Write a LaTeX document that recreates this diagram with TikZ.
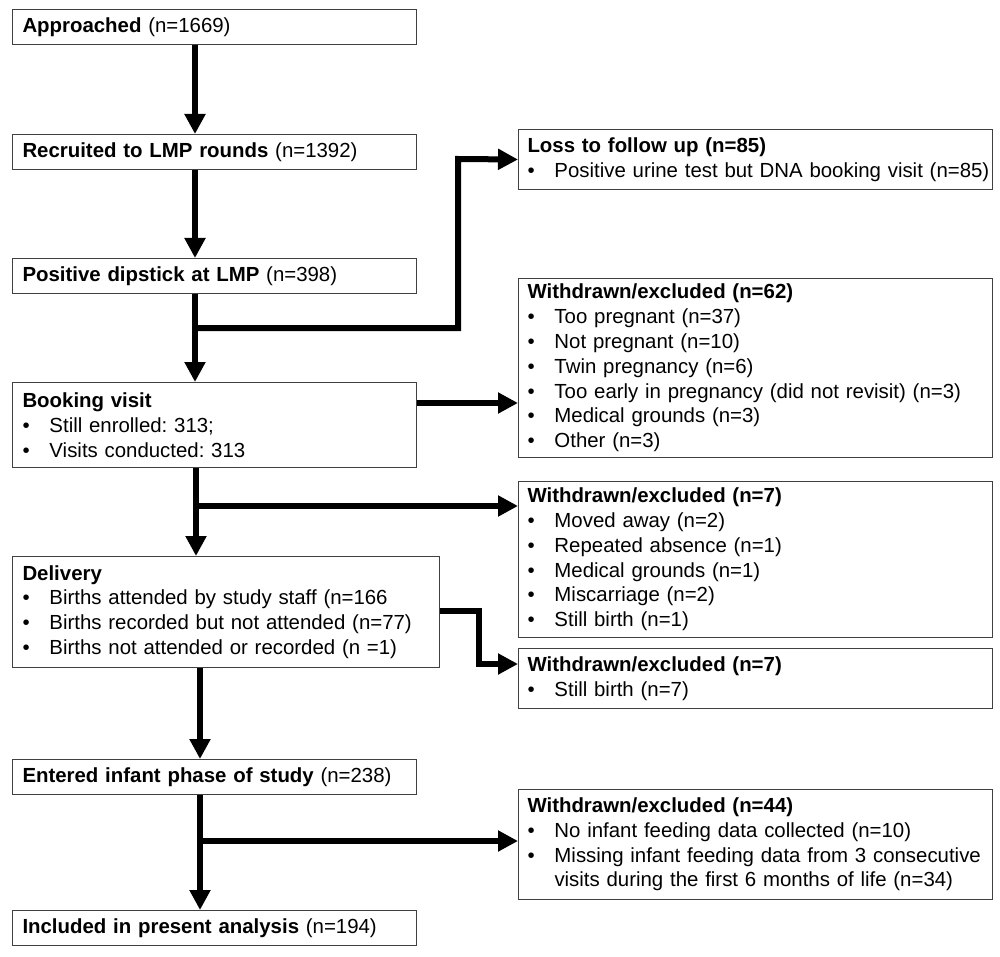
\documentclass[tikz,border=0pt]{standalone}
\usepackage{fontspec}
\setmainfont{Liberation Sans}
\usetikzlibrary{arrows.meta}
\frenchspacing
\newcommand\bitem[1]{\mbox{\makebox[27pt][l]{\textbullet}#1}}
\newcommand\bcont[1]{\mbox{\hspace*{27pt}#1}}
\begin{document}
\begin{tikzpicture}[x=1pt,y=-1pt,
  box/.style={draw=black!75, line width=1pt, rectangle, anchor=north west,
    align=left, inner ysep=0pt, font=\frenchspacing\fontsize{20.4}{24.8}\selectfont},
  lbox/.style={box, inner xsep=10pt, text width=#1-20pt, minimum width=#1},
  rbox/.style={box, inner xsep=9pt, text width=456pt, minimum width=474pt},
  arr/.style={line width=6pt, -{Triangle[length=20pt,width=20pt]}},
]
\fill[white] (0,0) rectangle (1000,957);
\useasboundingbox (0,0) rectangle (1000,957);

% left column
\node[lbox=404pt, minimum height=35pt] (A) at (12,9) {\textbf{Approached} (n=1669)};
\node[lbox=404pt, minimum height=35pt] (R) at (12,134) {\textbf{Recruited to LMP rounds} (n=1392)};
\node[lbox=404pt, minimum height=35pt] (P) at (12,258) {\textbf{Positive dipstick at LMP} (n=398)};
\node[lbox=404pt, minimum height=85pt] (B) at (12,382) {\textbf{Booking visit}\\
  \bitem{Still enrolled: 313;}\\
  \bitem{Visits conducted: 313}};
\node[lbox=427pt, minimum height=111pt] (D) at (12,556) {\textbf{Delivery}\\
  \bitem{Births attended by study staff (n=166}\\
  \bitem{Births recorded but not attended (n=77)}\\
  \bitem{Births not attended or recorded (n =1)}};
\node[lbox=404pt, minimum height=35pt] (E) at (12,759) {\textbf{Entered infant phase of study} (n=238)};
\node[lbox=404pt, minimum height=35pt] (I) at (12,910) {\textbf{Included in present analysis} (n=194)};

% right column
\node[rbox, minimum height=60pt] (L) at (518,129) {\textbf{Loss to follow up (n=85)}\\
  \bitem{Positive urine test but DNA booking visit (n=85)}};
\node[rbox, minimum height=179pt] (W1) at (518,278) {\textbf{Withdrawn/excluded (n=62)}\\
  \bitem{Too pregnant (n=37)}\\
  \bitem{Not pregnant (n=10)}\\
  \bitem{Twin pregnancy (n=6)}\\
  \bitem{Too early in pregnancy (did not revisit) (n=3)}\\
  \bitem{Medical grounds (n=3)}\\
  \bitem{Other (n=3)}};
\node[rbox, minimum height=156pt] (W2) at (518,481) {\textbf{Withdrawn/excluded (n=7)}\\
  \bitem{Moved away (n=2)}\\
  \bitem{Repeated absence (n=1)}\\
  \bitem{Medical grounds (n=1)}\\
  \bitem{Miscarriage (n=2)}\\
  \bitem{Still birth (n=1)}};
\node[rbox, minimum height=60pt] (W3) at (518,648) {\textbf{Withdrawn/excluded (n=7)}\\
  \bitem{Still birth (n=7)}};
\node[rbox, minimum height=110pt] (W4) at (518,789) {\textbf{Withdrawn/excluded (n=44)}\\
  \bitem{No infant feeding data collected (n=10)}\\
  \bitem{Missing infant feeding data from 3 consecutive}\\
  \bcont{visits during the first 6 months of life (n=34)}};

% helper coordinates
\coordinate (t1) at (195,0);
\coordinate (t2) at (196,0);
\coordinate (t3) at (200,0);
\coordinate (j1) at (195,328);
\coordinate (k1) at (458,159);
\coordinate (y403) at (0,403);
\coordinate (j2) at (196,506);
\coordinate (y611) at (0,611);
\coordinate (k3) at (479,664);
\coordinate (j4) at (200,841);

% connectors
\draw[arr] (A.south -| t1) -- (R.north -| t1);
\draw[arr] (R.south -| t1) -- (P.north -| t1);
\draw[arr] (P.south -| t1) -- (B.north -| t1);
\draw[arr] (j1) -| (k1) -- (L.west);
\draw[arr] (B.east |- y403) -- (W1.west |- y403);
\draw[arr] (B.south -| t2) -- (D.north -| t2);
\draw[arr] (j2) -- (W2.west |- j2);
\draw[arr] (D.east |- y611) -| (k3) -- (W3.west |- k3);
\draw[arr] (D.south -| t3) -- (E.north -| t3);
\draw[arr] (E.south -| t3) -- (I.north -| t3);
\draw[arr] (j4) -- (W4.west |- j4);
\end{tikzpicture}
\end{document}
